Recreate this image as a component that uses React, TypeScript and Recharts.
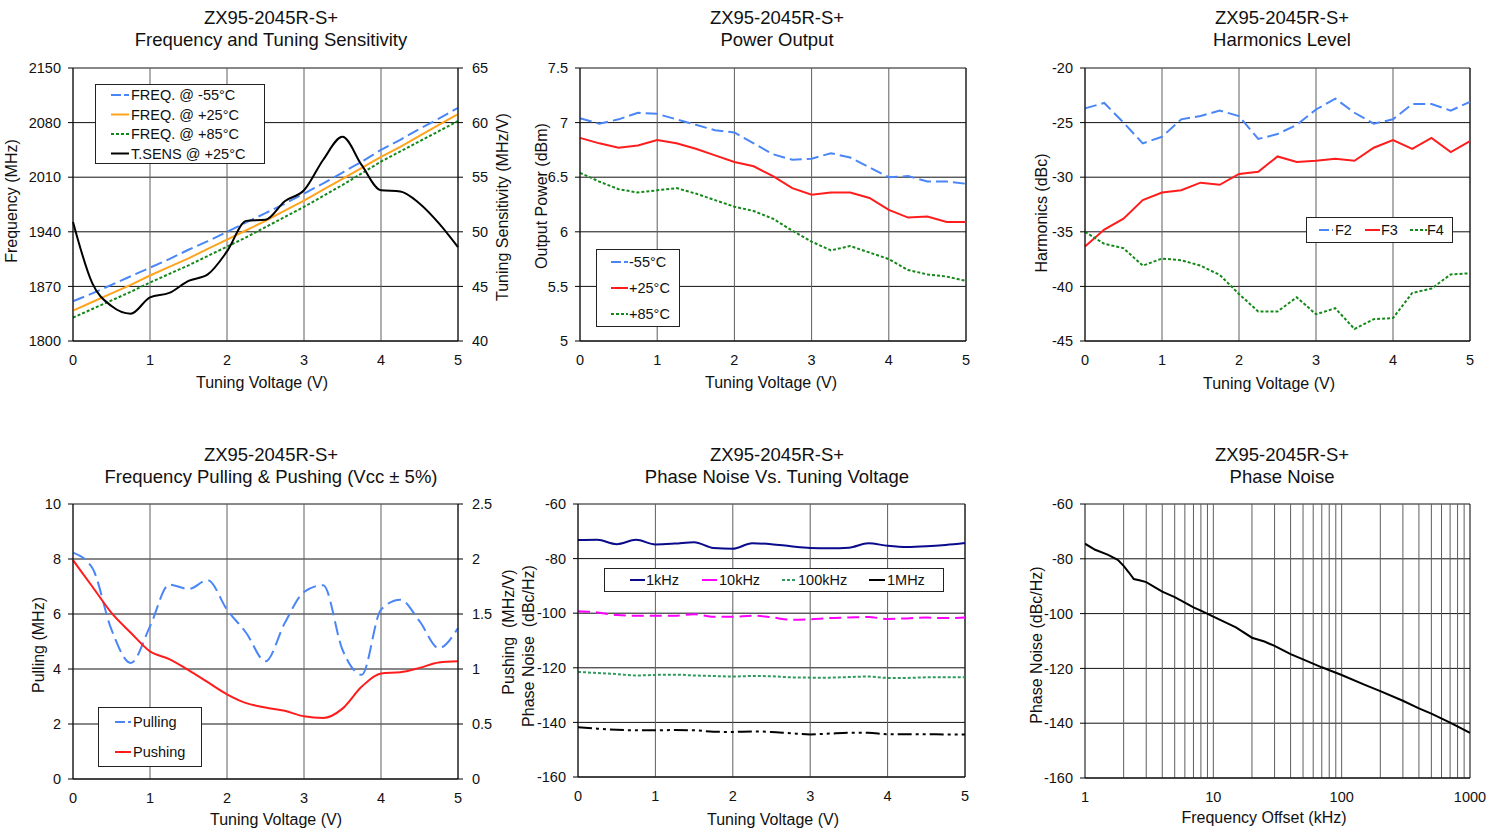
import React from "react";
import {
  LineChart,
  Line,
  XAxis,
  YAxis,
  CartesianGrid,
  ReferenceLine
} from "recharts";

const FONT = '"Liberation Sans", Arial, Helvetica, sans-serif';

// ---- data ----
const volts = [0, 0.25, 0.5, 0.75, 1, 1.25, 1.5, 1.75, 2, 2.25, 2.5, 2.75, 3, 3.25, 3.5, 3.75, 4, 4.25, 4.5, 4.75, 5];
const voltTicks = [0, 1, 2, 3, 4, 5];

// frequency & tuning sensitivity
const freqCold = [1851, 1861, 1872, 1883, 1894, 1905, 1917, 1928, 1940, 1952, 1964, 1976, 1989, 2002, 2016, 2030, 2045, 2058, 2072, 2085, 2099];
const freqRoom = [1839, 1850, 1861, 1872, 1884, 1895, 1906, 1918, 1930, 1942, 1954, 1967, 1980, 1994, 2008, 2022, 2036, 2049, 2063, 2077, 2091];
const freqHot = [1830, 1841, 1852, 1863, 1875, 1886, 1897, 1909, 1921, 1933, 1946, 1959, 1972, 1986, 2000, 2015, 2030, 2043, 2056, 2069, 2082];
const tuneSens = [50.9, 45.3, 43.2, 42.5, 44.0, 44.4, 45.5, 46.1, 48.2, 51.0, 51.1, 52.8, 53.8, 56.6, 58.7, 56.1, 53.8, 53.7, 52.6, 50.8, 48.6];
const freqTicks = [1800, 1870, 1940, 2010, 2080, 2150];
const sensTicks = [40, 45, 50, 55, 60, 65];

// power output
const powCold = [7.04, 6.99, 7.03, 7.09, 7.08, 7.03, 6.98, 6.93, 6.91, 6.81, 6.71, 6.66, 6.67, 6.72, 6.68, 6.59, 6.5, 6.51, 6.46, 6.46, 6.44];
const powRoom = [6.86, 6.81, 6.77, 6.79, 6.84, 6.81, 6.76, 6.7, 6.64, 6.6, 6.51, 6.4, 6.34, 6.36, 6.36, 6.31, 6.2, 6.13, 6.14, 6.09, 6.09];
const powHot = [6.54, 6.46, 6.39, 6.36, 6.38, 6.4, 6.35, 6.29, 6.23, 6.19, 6.12, 6.01, 5.91, 5.83, 5.87, 5.81, 5.75, 5.65, 5.61, 5.59, 5.55];
const powTicks = [5, 5.5, 6, 6.5, 7, 7.5];

// harmonics
const harmF2 = [-23.7, -23.2, -25.0, -26.9, -26.3, -24.7, -24.4, -23.9, -24.4, -26.5, -26.05, -25.2, -23.8, -22.8, -24.1, -25.1, -24.7, -23.3, -23.3, -23.9, -23.1];
const harmF3 = [-36.35, -34.8, -33.8, -32.1, -31.4, -31.2, -30.5, -30.7, -29.7, -29.5, -28.1, -28.6, -28.5, -28.3, -28.5, -27.3, -26.6, -27.4, -26.4, -27.7, -26.7];
const harmF4 = [-35.0, -36.1, -36.5, -38.1, -37.45, -37.6, -38.1, -38.95, -40.7, -42.3, -42.3, -41.0, -42.55, -42.0, -43.9, -43.0, -42.9, -40.6, -40.2, -38.9, -38.8];
const harmTicks = [-45, -40, -35, -30, -25, -20];

// pulling & pushing
const pulling = [8.23, 7.68, 5.43, 4.22, 5.55, 7.07, 6.91, 7.23, 6.16, 5.31, 4.28, 5.67, 6.8, 7.05, 4.7, 3.79, 6.16, 6.52, 5.74, 4.76, 5.49];
const pushing = [1.99, 1.75, 1.51, 1.33, 1.16, 1.09, 0.99, 0.88, 0.77, 0.69, 0.65, 0.62, 0.57, 0.555, 0.64, 0.84, 0.96, 0.97, 1.01, 1.06, 1.07];
const pullTicks = [0, 2, 4, 6, 8, 10];
const pushTicks = [0, 0.5, 1, 1.5, 2, 2.5];

// phase noise vs tuning voltage
const pn1k = [-73.2, -73.1, -74.7, -73.1, -74.8, -74.5, -74.0, -76.1, -76.4, -74.4, -74.7, -75.5, -76.1, -76.2, -76.0, -74.4, -75.3, -75.75, -75.5, -75.0, -74.3];
const pn10k = [-99.3, -99.7, -100.7, -100.9, -100.9, -100.9, -100.4, -101.3, -101.3, -100.9, -101.5, -102.4, -102.2, -101.8, -101.6, -101.4, -102.1, -101.9, -101.6, -101.8, -101.6];
const pn100k = [-121.5, -121.9, -122.3, -122.8, -122.6, -122.5, -122.8, -123.0, -123.2, -123.0, -123.1, -123.5, -123.6, -123.6, -123.4, -123.2, -123.7, -123.7, -123.5, -123.5, -123.5];
const pn1M = [-141.8, -142.3, -142.7, -142.9, -142.9, -142.8, -142.9, -143.4, -143.5, -143.3, -143.5, -144.0, -144.4, -144.1, -143.8, -143.8, -144.3, -144.3, -144.3, -144.4, -144.4];
const pnTicks = [-160, -140, -120, -100, -80, -60];

// phase noise vs offset
const offsetKHz = [1, 1.2, 1.5, 1.8, 2, 2.2, 2.4, 2.7, 3, 4, 5, 6, 7, 8, 10, 15, 20, 25, 30, 40, 50, 70, 100, 150, 200, 300, 400, 500, 700, 1000];
const pnLevel = [-74.5, -76.7, -78.5, -80.4, -82.6, -85.0, -87.4, -87.9, -88.5, -92.0, -94.0, -96.0, -97.7, -98.9, -101.1, -105.0, -108.8, -110.2, -111.8, -114.8, -116.7, -119.6, -122.4, -125.9, -128.3, -131.8, -134.6, -136.5, -139.8, -143.5];
const offsetTicks = [1, 10, 100, 1000];
const logGrid = [2, 3, 4, 5, 6, 7, 8, 9, 10, 20, 30, 40, 50, 60, 70, 80, 90, 100, 200, 300, 400, 500, 600, 700, 800, 900];

// ---- tables for recharts ----
const freqData = volts.map((v, i) => ({ v, cold: freqCold[i], room: freqRoom[i], hot: freqHot[i], sens: tuneSens[i] }));
const powData = volts.map((v, i) => ({ v, cold: powCold[i], room: powRoom[i], hot: powHot[i] }));
const harmData = volts.map((v, i) => ({ v, f2: harmF2[i], f3: harmF3[i], f4: harmF4[i] }));
const pullData = volts.map((v, i) => ({ v, pull: pulling[i], push: pushing[i] }));
const pnvData = volts.map((v, i) => ({ v, k1: pn1k[i], k10: pn10k[i], k100: pn100k[i], m1: pn1M[i] }));
const pnData = offsetKHz.map((f, i) => ({ f, pn: pnLevel[i] }));

// colours
const BLUE = "#4a86f7";
const ORANGE = "#ffa41c";
const GREEN = "#14891a";
const RED = "#ff1c1c";
const NAVY = "#0a0a8c";
const MAGENTA = "#ff00ff";
const SEA = "#2e9a5e";

// plot boxes (page px)
const P1 = { l: 73, r: 458, t: 68, b: 341 };
const P2 = { l: 580, r: 966, t: 68, b: 341 };
const P3 = { l: 1085, r: 1470, t: 68, b: 341 };
const P4 = { l: 73, r: 458, t: 504, b: 779 };
const P5 = { l: 578, r: 965, t: 504, b: 777 };
const P6 = { l: 1085, r: 1470, t: 504, b: 778 };

type Box = { l: number; r: number; t: number; b: number };
const AXW = 70;
const place = (p: Box): React.CSSProperties => ({ position: "absolute", left: p.l - AXW, top: p.t - 10 });
const cw = (p: Box) => p.r - p.l + AXW * 2;
const ch = (p: Box) => p.b - p.t + 60;
const mg = (right: boolean) => ({ top: 10, left: 0, bottom: 0, right: right ? 0 : AXW });

const tickStyle = { fontSize: 14.5, fill: "#111", fontFamily: FONT };

const xProps = {
  type: "number" as const,
  height: 50,
  axisLine: { stroke: "#000" },
  tickLine: false,
  tickSize: 6,
  tickMargin: 8,
  tick: tickStyle,
  interval: 0 as const
};
const yLeft = {
  type: "number" as const,
  width: AXW,
  axisLine: { stroke: "#000" },
  tickLine: { stroke: "#000" },
  tickSize: 5,
  tickMargin: 7,
  tick: tickStyle,
  interval: 0 as const,
  allowDataOverflow: true
};
const yRight = { ...yLeft, orientation: "right" as const, tickMargin: 9 };

type LegItem = { label: string; color: string; dash?: string; x1: number; x2: number; y: number; tx: number };

function LegendBox({ x, y, w, h, items }: { x: number; y: number; w: number; h: number; items: LegItem[] }) {
  return (
    <svg width={w} height={h} style={{ position: "absolute", left: x, top: y }}>
      <rect x={0.5} y={0.5} width={w - 1} height={h - 1} fill="#fff" stroke="#222" />
      {items.map((it) => (
        <g key={it.label}>
          <line x1={it.x1 - x} x2={it.x2 - x} y1={it.y - y} y2={it.y - y} stroke={it.color} strokeWidth={2} strokeDasharray={it.dash} />
          <text x={it.tx - x} y={it.y - y} dominantBaseline="central" fontSize={14.5} fontFamily={FONT} fill="#111">
            {it.label}
          </text>
        </g>
      ))}
    </svg>
  );
}

function Txt({ x, y, text, size = 16, rotate = false }: { x: number; y: number; text: string; size?: number; rotate?: boolean }) {
  return (
    <div
      style={{
        position: "absolute",
        left: x,
        top: y,
        transform: `translate(-50%, -50%)${rotate ? " rotate(-90deg)" : ""}`,
        whiteSpace: "pre",
        fontFamily: FONT,
        fontSize: size,
        lineHeight: 1,
        color: "#111"
      }}
    >
      {text}
    </div>
  );
}

function Title({ x, y, lines }: { x: number; y: number; lines: string[] }) {
  return (
    <>
      <Txt x={x} y={y} text={lines[0]} size={18.5} />
      <Txt x={x} y={y + 22} text={lines[1]} size={18.5} />
    </>
  );
}

const HGRID = "#111";
const VGRID = "#5e5e5e";
const DASH = "12 5";
const DOTS = "3 2";

export default function App() {
  return (
    <div style={{ position: "absolute", left: 0, top: 0, width: 1499, height: 832, background: "#fff", overflow: "hidden" }}>
      {/* 1: frequency & tuning sensitivity */}
      <div style={place(P1)}>
        <LineChart width={cw(P1)} height={ch(P1)} data={freqData} margin={mg(true)}>
          <CartesianGrid yAxisId="left" vertical={false} stroke={HGRID} />
          <CartesianGrid yAxisId="left" horizontal={false} stroke={VGRID} />
          <XAxis {...xProps} dataKey="v" domain={[0, 5]} ticks={voltTicks} />
          <YAxis {...yLeft} yAxisId="left" domain={[1800, 2150]} ticks={freqTicks} />
          <YAxis {...yRight} yAxisId="right" domain={[40, 65]} ticks={sensTicks} />
          <Line yAxisId="left" type="linear" dataKey="cold" stroke={BLUE} strokeWidth={2} strokeDasharray={DASH} dot={false} isAnimationActive={false} />
          <Line yAxisId="left" type="linear" dataKey="room" stroke={ORANGE} strokeWidth={2} dot={false} isAnimationActive={false} />
          <Line yAxisId="left" type="linear" dataKey="hot" stroke={GREEN} strokeWidth={2} strokeDasharray={DOTS} dot={false} isAnimationActive={false} />
          <Line yAxisId="right" type="monotone" dataKey="sens" stroke="#000" strokeWidth={2} dot={false} isAnimationActive={false} />
        </LineChart>
      </div>

      {/* 2: power output */}
      <div style={place(P2)}>
        <LineChart width={cw(P2)} height={ch(P2)} data={powData} margin={mg(false)}>
          <CartesianGrid vertical={false} stroke={HGRID} />
          <CartesianGrid horizontal={false} stroke={VGRID} />
          <XAxis {...xProps} dataKey="v" domain={[0, 5]} ticks={voltTicks} />
          <YAxis {...yLeft} domain={[5, 7.5]} ticks={powTicks} />
          <ReferenceLine x={5} stroke="#000" />
          <Line type="linear" dataKey="cold" stroke={BLUE} strokeWidth={2} strokeDasharray={DASH} dot={false} isAnimationActive={false} />
          <Line type="linear" dataKey="room" stroke={RED} strokeWidth={2} dot={false} isAnimationActive={false} />
          <Line type="linear" dataKey="hot" stroke={GREEN} strokeWidth={2} strokeDasharray={DOTS} dot={false} isAnimationActive={false} />
        </LineChart>
      </div>

      {/* 3: harmonics */}
      <div style={place(P3)}>
        <LineChart width={cw(P3)} height={ch(P3)} data={harmData} margin={mg(false)}>
          <CartesianGrid vertical={false} stroke={HGRID} />
          <CartesianGrid horizontal={false} stroke={VGRID} />
          <XAxis {...xProps} dataKey="v" domain={[0, 5]} ticks={voltTicks} />
          <YAxis {...yLeft} domain={[-45, -20]} ticks={harmTicks} />
          <ReferenceLine x={5} stroke="#000" />
          <Line type="linear" dataKey="f2" stroke={BLUE} strokeWidth={2} strokeDasharray={DASH} dot={false} isAnimationActive={false} />
          <Line type="linear" dataKey="f3" stroke={RED} strokeWidth={2} dot={false} isAnimationActive={false} />
          <Line type="linear" dataKey="f4" stroke={GREEN} strokeWidth={2} strokeDasharray={DOTS} dot={false} isAnimationActive={false} />
        </LineChart>
      </div>

      {/* 4: pulling & pushing */}
      <div style={place(P4)}>
        <LineChart width={cw(P4)} height={ch(P4)} data={pullData} margin={mg(true)}>
          <CartesianGrid yAxisId="left" vertical={false} stroke={HGRID} />
          <CartesianGrid yAxisId="left" horizontal={false} stroke={VGRID} />
          <XAxis {...xProps} dataKey="v" domain={[0, 5]} ticks={voltTicks} />
          <YAxis {...yLeft} yAxisId="left" domain={[0, 10]} ticks={pullTicks} />
          <YAxis {...yRight} yAxisId="right" domain={[0, 2.5]} ticks={pushTicks} />
          <Line yAxisId="left" type="monotone" dataKey="pull" stroke={BLUE} strokeWidth={2} strokeDasharray="14 6" dot={false} isAnimationActive={false} />
          <Line yAxisId="right" type="monotone" dataKey="push" stroke={RED} strokeWidth={2} dot={false} isAnimationActive={false} />
        </LineChart>
      </div>

      {/* 5: phase noise vs tuning voltage */}
      <div style={place(P5)}>
        <LineChart width={cw(P5)} height={ch(P5)} data={pnvData} margin={mg(false)}>
          <CartesianGrid vertical={false} stroke={HGRID} />
          <CartesianGrid horizontal={false} stroke={VGRID} />
          <XAxis {...xProps} dataKey="v" domain={[0, 5]} ticks={voltTicks} />
          <YAxis {...yLeft} domain={[-160, -60]} ticks={pnTicks} />
          <ReferenceLine x={5} stroke="#000" />
          <Line type="monotone" dataKey="k1" stroke={NAVY} strokeWidth={2} dot={false} isAnimationActive={false} />
          <Line type="monotone" dataKey="k10" stroke={MAGENTA} strokeWidth={2} strokeDasharray="12 6" dot={false} isAnimationActive={false} />
          <Line type="monotone" dataKey="k100" stroke={SEA} strokeWidth={2} strokeDasharray={DOTS} dot={false} isAnimationActive={false} />
          <Line type="monotone" dataKey="m1" stroke="#000" strokeWidth={2} strokeDasharray="14 4 3 4 3 4" dot={false} isAnimationActive={false} />
        </LineChart>
      </div>

      {/* 6: phase noise vs offset */}
      <div style={place(P6)}>
        <LineChart width={cw(P6)} height={ch(P6)} data={pnData} margin={mg(false)}>
          <CartesianGrid vertical={false} stroke={HGRID} />
          <CartesianGrid horizontal={false} stroke={VGRID} verticalValues={logGrid} />
          <XAxis {...xProps} dataKey="f" scale="log" domain={[1, 1000]} ticks={offsetTicks} allowDataOverflow />
          <YAxis {...yLeft} domain={[-160, -60]} ticks={pnTicks} />
          <ReferenceLine x={1000} stroke="#000" />
          <Line type="linear" dataKey="pn" stroke="#000" strokeWidth={2} dot={false} isAnimationActive={false} />
        </LineChart>
      </div>

      {/* titles */}
      <Title x={271} y={18} lines={["ZX95-2045R-S+", "Frequency and Tuning Sensitivity"]} />
      <Title x={777} y={18} lines={["ZX95-2045R-S+", "Power Output"]} />
      <Title x={1282} y={18} lines={["ZX95-2045R-S+", "Harmonics Level"]} />
      <Title x={271} y={455} lines={["ZX95-2045R-S+", "Frequency Pulling & Pushing (Vcc ± 5%)"]} />
      <Title x={777} y={455} lines={["ZX95-2045R-S+", "Phase Noise Vs. Tuning Voltage"]} />
      <Title x={1282} y={455} lines={["ZX95-2045R-S+", "Phase Noise"]} />

      {/* axis titles */}
      <Txt x={262} y={383} text="Tuning Voltage (V)" />
      <Txt x={12} y={201} text="Frequency (MHz)" rotate />
      <Txt x={503} y={207} text="Tuning Sensitivity (MHz/V)" rotate />
      <Txt x={771} y={383} text="Tuning Voltage (V)" />
      <Txt x={542} y={196} text="Output Power (dBm)" rotate />
      <Txt x={1269} y={384} text="Tuning Voltage (V)" />
      <Txt x={1042} y={213} text="Harmonics (dBc)" rotate />
      <Txt x={276} y={820} text="Tuning Voltage (V)" />
      <Txt x={39} y={645} text="Pulling (MHz)" rotate />
      <Txt x={773} y={820} text="Tuning Voltage (V)" />
      <Txt x={509} y={632} text="Pushing  (MHz/V)" rotate />
      <Txt x={529} y={646} text="Phase Noise  (dBc/Hz)" rotate />
      <Txt x={1264} y={818} text="Frequency Offset (kHz)" />
      <Txt x={1037} y={645} text="Phase Noise (dBc/Hz)" rotate />

      {/* legends */}
      <LegendBox
        x={95}
        y={84}
        w={170}
        h={80}
        items={[
          { label: "FREQ. @ -55°C", color: BLUE, dash: "10 3", x1: 111, x2: 129, y: 95, tx: 131 },
          { label: "FREQ. @ +25°C", color: ORANGE, x1: 111, x2: 129, y: 114.5, tx: 131 },
          { label: "FREQ. @ +85°C", color: GREEN, dash: DOTS, x1: 111, x2: 129, y: 134, tx: 131 },
          { label: "T.SENS @ +25°C", color: "#000", x1: 111, x2: 129, y: 153.5, tx: 131 }
        ]}
      />
      <LegendBox
        x={596}
        y={249}
        w={84}
        h={78}
        items={[
          { label: "-55°C", color: BLUE, dash: "10 3", x1: 611, x2: 628, y: 262, tx: 629 },
          { label: "+25°C", color: RED, x1: 611, x2: 628, y: 288, tx: 629 },
          { label: "+85°C", color: GREEN, dash: DOTS, x1: 611, x2: 628, y: 314, tx: 629 }
        ]}
      />
      <LegendBox
        x={1306}
        y={217}
        w={147}
        h={26}
        items={[
          { label: "F2", color: BLUE, dash: "10 3", x1: 1319, x2: 1333, y: 230, tx: 1335 },
          { label: "F3", color: RED, x1: 1365, x2: 1380, y: 230, tx: 1381 },
          { label: "F4", color: GREEN, dash: DOTS, x1: 1410, x2: 1427, y: 230, tx: 1427 }
        ]}
      />
      <LegendBox
        x={98}
        y={707}
        w={104}
        h={60}
        items={[
          { label: "Pulling", color: BLUE, dash: "10 3", x1: 115, x2: 131, y: 722, tx: 133 },
          { label: "Pushing", color: RED, x1: 115, x2: 131, y: 752, tx: 133 }
        ]}
      />
      <LegendBox
        x={604}
        y={568}
        w={340}
        h={24}
        items={[
          { label: "1kHz", color: NAVY, x1: 630, x2: 645, y: 580, tx: 646 },
          { label: "10kHz", color: MAGENTA, x1: 702, x2: 717, y: 580, tx: 719 },
          { label: "100kHz", color: SEA, dash: DOTS, x1: 782, x2: 797, y: 580, tx: 798 },
          { label: "1MHz", color: "#000", x1: 869, x2: 885, y: 580, tx: 887 }
        ]}
      />
    </div>
  );
}
